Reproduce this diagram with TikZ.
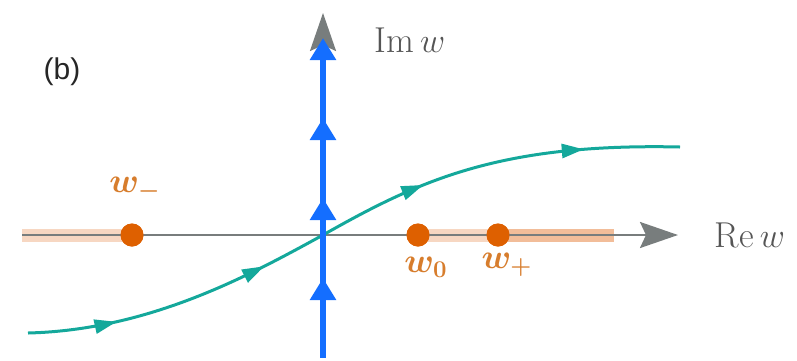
\documentclass[tikz,border=0pt]{standalone}
\usepackage{amsmath,bm}
\usepackage{fontspec}
\newfontfamily\panelfont{Liberation Sans}
\usetikzlibrary{arrows.meta,decorations.markings}
\definecolor{axgray}{RGB}{120,125,125}
\definecolor{txtgray}{RGB}{85,85,85}
\definecolor{cblue}{RGB}{20,110,255}
\definecolor{cteal}{RGB}{20,168,155}
\definecolor{ptorange}{RGB}{222,96,0}
\definecolor{lblorange}{RGB}{215,125,45}
\definecolor{cutorange}{RGB}{232,135,70}
\tikzset{
	axis/.style={draw=axgray, line width=1.2pt,
		-{Stealth[length=19pt, width=13pt, inset=3pt, fill=axgray]}},
	cut/.style={draw=cutorange, line width=6.5pt, draw opacity=0.33},
	pole/.style={circle, fill=ptorange, inner sep=0pt, minimum size=11.5pt},
	plbl/.style={text=lblorange, font=\fontsize{17}{19}\selectfont},
	axlbl/.style={text=txtgray, font=\fontsize{18}{21}\selectfont},
	tealpath/.style={draw=cteal, line width=1.5pt, postaction={decorate},
		decoration={markings,
			mark=at position 0.13 with {\arrow{Triangle[length=11pt, width=7pt]}},
			mark=at position 0.36 with {\arrow{Triangle[length=11pt, width=7pt]}},
			mark=at position 0.62 with {\arrow{Triangle[length=11pt, width=7pt]}},
			mark=at position 0.86 with {\arrow{Triangle[length=11pt, width=7pt]}}}},
	bluepath/.style={draw=cblue, line width=3pt, postaction={decorate},
		-{Triangle[length=11pt, width=12.5pt]},
		decoration={markings,
			mark=at position 0.25 with {\arrow{Triangle[length=11pt, width=12.5pt]}},
			mark=at position 0.5 with {\arrow{Triangle[length=11pt, width=12.5pt]}},
			mark=at position 0.75 with {\arrow{Triangle[length=11pt, width=12.5pt]}}}},
}
\begin{document}
\begin{tikzpicture}[x=0.5pt, y=-0.5pt]
	\useasboundingbox (0,0) rectangle (797,360);
	\coordinate (o) at (323,235);
	\coordinate (reL) at (22,235);
	\coordinate (reR) at (678,235);
	\coordinate (imB) at (323,358);
	\coordinate (imT) at (323,13);
	\coordinate (blT) at (323,38);
	\coordinate (cutR) at (614,235);
	\coordinate (tA) at (28,333);
	\coordinate (tB) at (680,147);
	\node[pole] at (132,235) (wm) {};
	\node[pole] at (418,235) (wz) {};
	\node[pole] at (498,235) (wp) {};
	% branch cuts
	\draw[cut] (reL) -- (wm.center);
	\draw[cut] (wz.center) -- (cutR);
	\draw[cut] (wp.center) -- (cutR);
	% axes
	\draw[axis] (reL) -- (reR);
	\draw[axis] (imB) -- (imT);
	% contours
	\draw[tealpath] (tA) .. controls (150,330) and (250,275) .. (o)
		.. controls (420,180) and (500,143) .. (tB);
	\draw[bluepath] (imB) -- (blT);
	% points back on top
	\node[pole] at (wm) {};
	\node[pole] at (wz) {};
	\node[pole] at (wp) {};
	\node[plbl] at (135,189) (lm) {$\bm{w}_{\bm{-}}$};
	\node[plbl] at (426,267) (lz) {$\bm{w}_{\bm{0}}$};
	\node[plbl] at (507,265) (lp) {$\bm{w}_{\bm{+}}$};
	\node[axlbl] at (750,235) (lre) {Re\,$w$};
	\node[axlbl] at (410,40) (lim) {Im\,$w$};
	\node[font=\panelfont\fontsize{15}{18}\selectfont, text=black!85] at (62,72) (pan) {(b)};
\end{tikzpicture}
\end{document}
